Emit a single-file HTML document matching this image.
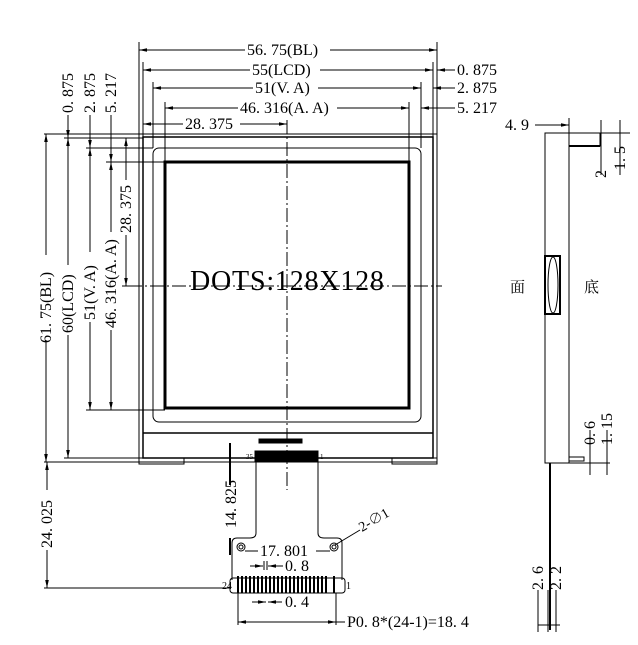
<!DOCTYPE html><html><head><style>body{margin:0;background:#fff}svg{display:block}text{font-family:"Liberation Serif","Noto Serif CJK SC",serif;fill:#000}</style></head><body>
<svg width="638" height="645" viewBox="0 0 638 645" xmlns="http://www.w3.org/2000/svg">
<defs><marker id="a" markerWidth="8" markerHeight="6" refX="8" refY="3" orient="auto-start-reverse"><path d="M0,1.2 L8,3 L0,4.8z" fill="#000"/></marker></defs>
<g stroke="#000" fill="none" stroke-width="1">
<rect x="139" y="134" width="298" height="328"/>
<rect x="143" y="137" width="290" height="321" stroke-width="1.5"/>
<rect x="153" y="148" width="268" height="274" rx="6"/>
<rect x="165" y="162" width="244" height="246" stroke-width="3"/>
<line x1="143" y1="433" x2="433" y2="433" stroke-width="1.5"/>
<rect x="139" y="458" width="45" height="6"/><rect x="392" y="458" width="45" height="6"/>
<rect x="259" y="439" width="43" height="4" fill="#000"/>
<line x1="287" y1="120" x2="287" y2="490" stroke-dasharray="14,3,2,3"/>
<line x1="128" y1="286" x2="442" y2="286" stroke-dasharray="14,3,2,3"/>
<line x1="139" y1="42" x2="139" y2="134"/><line x1="437" y1="42" x2="437" y2="134"/>
<line x1="143" y1="62" x2="143" y2="137"/><line x1="433" y1="62" x2="433" y2="137"/>
<line x1="153" y1="82" x2="153" y2="148"/><line x1="421" y1="82" x2="421" y2="148"/>
<line x1="165" y1="102" x2="165" y2="162"/><line x1="409" y1="102" x2="409" y2="162"/>
<line x1="139" y1="50" x2="245" y2="50" marker-start="url(#a)"/><line x1="330" y1="50" x2="437" y2="50" marker-end="url(#a)"/>
<line x1="143" y1="70" x2="250" y2="70" marker-start="url(#a)"/><line x1="320" y1="70" x2="433" y2="70" marker-end="url(#a)"/>
<line x1="153" y1="88" x2="253" y2="88" marker-start="url(#a)"/><line x1="318" y1="88" x2="421" y2="88" marker-end="url(#a)"/>
<line x1="165" y1="108" x2="238" y2="108" marker-start="url(#a)"/><line x1="337" y1="108" x2="409" y2="108" marker-end="url(#a)"/>
<line x1="143" y1="124" x2="183" y2="124" marker-start="url(#a)"/><line x1="240" y1="124" x2="287" y2="124" marker-end="url(#a)"/>
<line x1="437" y1="70" x2="455" y2="70" marker-start="url(#a)"/>
<line x1="433" y1="88" x2="455" y2="88" marker-start="url(#a)"/>
<line x1="421" y1="108" x2="455" y2="108" marker-start="url(#a)"/>
<line x1="44" y1="134" x2="139" y2="134"/><line x1="44" y1="462" x2="139" y2="462"/>
<line x1="64" y1="138" x2="143" y2="138"/><line x1="64" y1="458" x2="143" y2="458"/>
<line x1="86" y1="148" x2="153" y2="148"/><line x1="86" y1="410" x2="153" y2="410"/>
<line x1="106" y1="162" x2="165" y2="162"/><line x1="106" y1="410" x2="165" y2="410"/>
<line x1="122" y1="286" x2="130" y2="286"/>
<line x1="46" y1="134" x2="46" y2="255" marker-start="url(#a)"/><line x1="46" y1="340" x2="46" y2="462" marker-end="url(#a)"/>
<line x1="68" y1="138" x2="68" y2="265" marker-start="url(#a)"/><line x1="68" y1="335" x2="68" y2="458" marker-end="url(#a)"/>
<line x1="90" y1="148" x2="90" y2="252" marker-start="url(#a)"/><line x1="90" y1="322" x2="90" y2="410" marker-end="url(#a)"/>
<line x1="111" y1="162" x2="111" y2="232" marker-start="url(#a)"/><line x1="111" y1="330" x2="111" y2="410" marker-end="url(#a)"/>
<line x1="126" y1="138" x2="126" y2="180" marker-start="url(#a)"/><line x1="126" y1="235" x2="126" y2="286" marker-end="url(#a)"/>
<line x1="68" y1="115" x2="68" y2="138" marker-end="url(#a)"/>
<line x1="90" y1="115" x2="90" y2="148" marker-end="url(#a)"/>
<line x1="111" y1="115" x2="111" y2="162" marker-end="url(#a)"/>
<rect x="255" y="451" width="63" height="10" fill="#000"/>
<path d="M256,461 V533 Q256,538 250,538 H237 Q232,538 232,543 V580 M318,461 V533 Q318,538 324,538 H337 Q342,538 342,543 V580"/>
<circle cx="241" cy="547" r="4"/><circle cx="241" cy="547" r="2"/>
<circle cx="334" cy="547" r="4"/><circle cx="334" cy="547" r="2"/>
<rect x="230" y="578" width="115" height="15" rx="3"/>
<g stroke-width="2">
<path d="M238,576V593M242,576V593M246,576V593M250,576V593M254,576V593M258,576V593M262,576V593M266,576V593M270,576V593M274,576V593M278,576V593M282,576V593M286,576V593M290,576V593M294,576V593M298,576V593M302,576V593M306,576V593M310,576V593M314,576V593M318,576V593M322,576V593M326,576V593M334,576V593"/></g>
<line x1="238" y1="593" x2="238" y2="625"/><line x1="336" y1="593" x2="336" y2="625"/>
<line x1="238" y1="622" x2="336" y2="622" marker-start="url(#a)" marker-end="url(#a)"/>
<line x1="336" y1="622" x2="345" y2="622"/>
<line x1="245" y1="551" x2="258" y2="551"/><line x1="316" y1="551" x2="330" y2="551"/>
<line x1="250" y1="566" x2="263" y2="566" marker-end="url(#a)"/><line x1="268" y1="566" x2="283" y2="566" marker-start="url(#a)"/>
<line x1="264" y1="561" x2="264" y2="570"/><line x1="267" y1="561" x2="267" y2="570"/>
<line x1="252" y1="602" x2="266" y2="602" marker-end="url(#a)"/><line x1="268" y1="602" x2="282" y2="602" marker-start="url(#a)"/>
<line x1="335" y1="545" x2="360" y2="530"/>
<line x1="230" y1="538" x2="230" y2="555" stroke-width="2"/>
<line x1="230" y1="443" x2="230" y2="485" stroke-width="2"/>
<line x1="47" y1="462" x2="47" y2="490" marker-start="url(#a)"/><line x1="47" y1="550" x2="47" y2="588" marker-end="url(#a)"/>
<line x1="44" y1="588" x2="230" y2="588"/>
<rect x="545" y="133" width="24" height="330"/>
<rect x="545" y="256" width="15" height="58" stroke-width="2"/>
<ellipse cx="553" cy="285" rx="5" ry="28"/>
<path d="M569,146 H600 V133 M569,133 H630"/>
<line x1="569" y1="146" x2="600" y2="146" stroke-width="2"/>
<line x1="601" y1="120" x2="601" y2="175"/><line x1="620" y1="120" x2="620" y2="175"/>
<rect x="569" y="457" width="15" height="4"/>
<line x1="569" y1="463" x2="610" y2="463"/>
<line x1="590" y1="430" x2="590" y2="475"/><line x1="607" y1="430" x2="607" y2="475"/>
<line x1="550" y1="463" x2="550" y2="630" stroke-width="2"/>
<line x1="535" y1="125" x2="569" y2="125" marker-end="url(#a)"/><line x1="569" y1="118" x2="569" y2="133"/>
<line x1="538" y1="590" x2="538" y2="632"/><line x1="548" y1="590" x2="548" y2="632"/><line x1="556" y1="590" x2="556" y2="632"/>
<line x1="538" y1="625" x2="560" y2="625"/>
</g>
<g font-size="16">
<text x="247" y="55">56. 75(BL)</text>
<text x="252" y="75">55(LCD)</text>
<text x="255" y="93">51(V. A)</text>
<text x="240" y="113">46. 316(A. A)</text>
<text x="185" y="129">28. 375</text>
<text x="457" y="75">0. 875</text>
<text x="457" y="93">2. 875</text>
<text x="457" y="113">5. 217</text>
<text x="505" y="130">4. 9</text>
<text transform="translate(51,343) rotate(-90)">61. 75(BL)</text>
<text transform="translate(73,333) rotate(-90)">60(LCD)</text>
<text transform="translate(95,320) rotate(-90)">51(V. A)</text>
<text transform="translate(116,328) rotate(-90)">46. 316(A. A)</text>
<text transform="translate(131,233) rotate(-90)">28. 375</text>
<text transform="translate(73,113) rotate(-90)">0. 875</text>
<text transform="translate(95,113) rotate(-90)">2. 875</text>
<text transform="translate(116,113) rotate(-90)">5. 217</text>
<text transform="translate(52,548) rotate(-90)">24. 025</text>
<text transform="translate(236,528) rotate(-90)">14. 825</text>
<text x="260" y="556">17. 801</text>
<text x="285" y="571">0. 8</text>
<text x="285" y="607">0. 4</text>
<text x="347" y="627">P0. 8*(24-1)=18. 4</text>
<text transform="translate(362,532) rotate(-30)" font-size="14">2-∅1</text>
<text transform="translate(606,178) rotate(-90)">2</text>
<text transform="translate(625,170) rotate(-90)">1. 5</text>
<text transform="translate(595,445) rotate(-90)">0. 6</text>
<text transform="translate(612,445) rotate(-90)">1. 15</text>
<text transform="translate(543,590) rotate(-90)">2. 6</text>
<text transform="translate(561,590) rotate(-90)">2. 2</text>
<text x="510" y="292" font-size="15">面</text>
<text x="584" y="292" font-size="15">底</text>
<text x="190" y="290" font-size="28" letter-spacing="0.8">DOTS:128X128</text>
<text x="222" y="589" font-size="10">24</text><text x="346" y="589" font-size="10">1</text>
<text x="246" y="459" font-size="7">35</text><text x="320" y="459" font-size="7">1</text>
</g>
</svg></body></html>
